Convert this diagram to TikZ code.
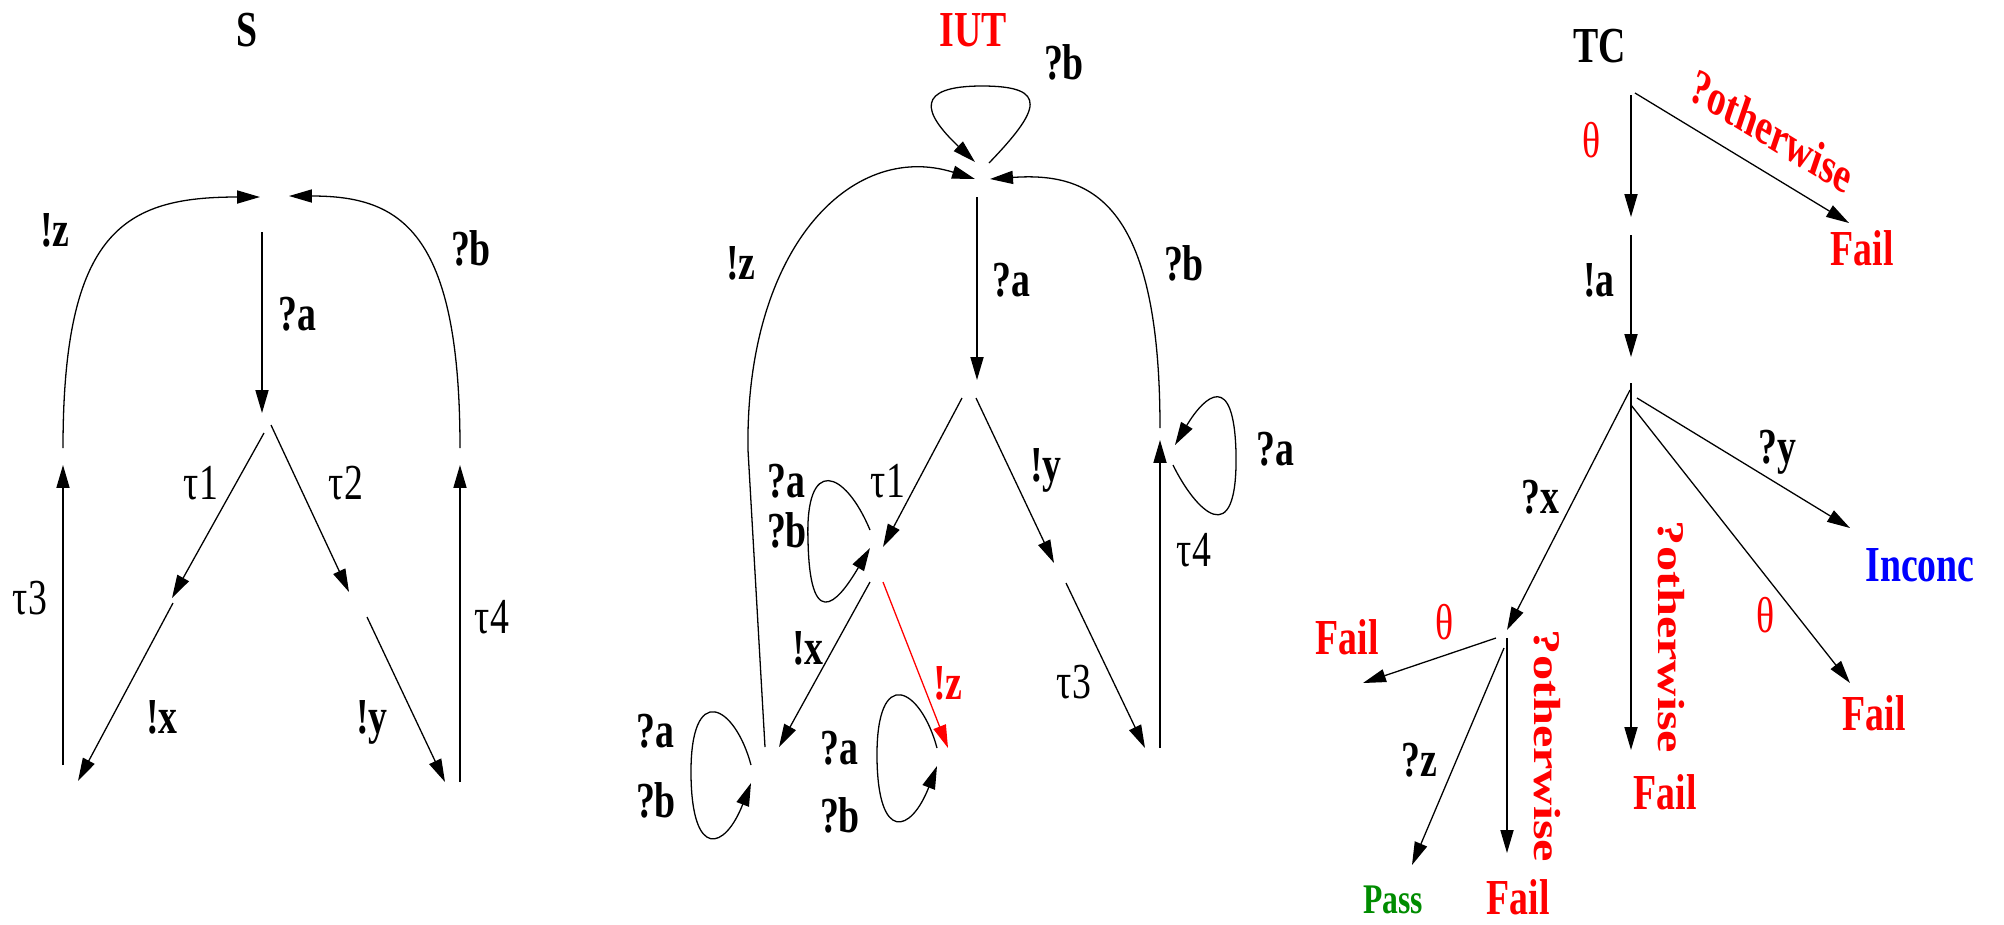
\documentclass[tikz,border=0pt]{standalone}
\usepackage{fontspec}
\setmainfont{Liberation Serif}
\usepackage{graphicx}
\usetikzlibrary{arrows.meta,calc}
\definecolor{pgreen}{RGB}{0,140,0}
\newcommand\lblb[1]{\scalebox{0.75}[1]{\bfseries #1}}
\newcommand\lblr[1]{\scalebox{0.75}[1]{#1}}
\newcommand\lblv[1]{\scalebox{0.75}[1]{\rotatebox{-90}{\bfseries #1}}}
\newcommand\lbld[1]{\scalebox{0.75}[1]{\rotatebox{-24.5}{\bfseries #1}}}
\begin{document}
\begin{tikzpicture}[x=0.015cm,y=-0.015cm,
  st/.style={inner sep=0pt,minimum size=0pt},
  lab/.style={inner sep=0pt,font=\fontsize{21.5}{24}\selectfont},
  small/.style={inner sep=0pt,font=\fontsize{18}{20}\selectfont},
  arr/.style={line width=0.55pt,-{Triangle[length=9.8pt,width=5.6pt]}}]
\useasboundingbox (0,0) rectangle (2004,924);

% ---------------- Panel S ----------------
\node[st] (s0) at (275,214) {};
\node[st] (s1) at (266,422) {};
\node[st] (s2) at (173,600) {};
\node[st] (s3) at (358,605) {};
\node[st] (s4) at (70,775) {};
\node[st] (s5) at (452,775) {};
\node[st] (s6) at (63,456) {};
\node[st] (s7) at (460,456) {};

\node[lab] (tS) at (247,30) {\lblb{S}};
\node[lab] (sz) at (55,230) {\lblb{!z}};
\node[lab] (sb) at (471,248) {\lblb{?b}};
\node[lab] (sa) at (297,314) {\lblb{?a}};
\node[lab] (st1) at (201,483) {\lblr{τ1}};
\node[lab] (st2) at (346,483) {\lblr{τ2}};
\node[lab] (st3) at (30,598) {\lblr{τ3}};
\node[lab] (st4) at (492,617) {\lblr{τ4}};
\node[lab] (sx) at (162,717) {\lblb{!x}};
\node[lab] (sy) at (372,722) {\lblb{!y}};

\draw[arr] ($(s6)+(0,-8)$) .. controls (63,230) and (125,197) .. ($(s0)+(-15,-17)$);
\draw[arr] ($(s7)+(0,-8)$) .. controls (460,230) and (400,196) .. ($(s0)+(14,-18)$);
\draw[arr] ($(s0)+(-13,18)$) -- ($(s1)+(-4,-9)$);
\draw[arr] ($(s1)+(-2,11)$) -- ($(s2)+(-1,-2)$);
\draw[arr] ($(s1)+(5,3)$) -- ($(s3)+(-9,-13)$);
\draw[arr] ($(s2)+(0,3)$) -- ($(s4)+(8,6)$);
\draw[arr] ($(s3)+(9,12)$) -- ($(s5)+(-7,7)$);
\draw[arr] ($(s4)+(-7,-10)$) -- ($(s6)+(0,9)$);
\draw[arr] ($(s5)+(8,7)$) -- ($(s7)+(0,9)$);

% ---------------- Panel IUT ----------------
\node[st] (i0) at (982,180) {};
\node[st] (i1) at (972,390) {};
\node[st] (i2) at (877,565) {};
\node[st] (i3) at (1060,573) {};
\node[st] (i4) at (770,765) {};
\node[st] (i5) at (948,765) {};
\node[st] (i6) at (1152,758) {};
\node[st] (i7) at (1165,445) {};

\node[lab,red] (tI) at (973,30) {\lblb{IUT}};
\node[lab] (ib0) at (1064,62) {\lblb{?b}};
\node[lab] (iz) at (741,263) {\lblb{!z}};
\node[lab] (ia) at (1011,280) {\lblb{?a}};
\node[lab] (ib) at (1184,263) {\lblb{?b}};
\node[lab] (ia7) at (1275,449) {\lblb{?a}};
\node[lab] (iy) at (1046,470) {\lblb{!y}};
\node[lab] (it1) at (888,481) {\lblr{τ1}};
\node[lab] (ia2) at (786,481) {\lblb{?a}};
\node[lab] (ib2) at (787,530) {\lblb{?b}};
\node[lab] (it4) at (1194,550) {\lblr{τ4}};
\node[lab] (ix) at (808,648) {\lblb{!x}};
\node[lab,red] (iz2) at (948,683) {\lblb{!z}};
\node[lab] (it3) at (1074,682) {\lblr{τ3}};
\node[lab] (ia4) at (655,731) {\lblb{?a}};
\node[lab] (ib4) at (656,800) {\lblb{?b}};
\node[lab] (ia5) at (839,748) {\lblb{?a}};
\node[lab] (ib5) at (840,815) {\lblb{?b}};

\draw[arr] ($(i0)+(7,-17)$) .. controls (1040,110) and (1050,86) .. (982,86)
  .. controls (915,86) and (922,112) .. ($(i0)+(-7,-18)$);
\draw[arr] ($(i4)+(-5,-18)$) -- (748,450) .. controls (745,250) and (850,140) .. ($(i0)+(-7,-1)$);
\draw[arr] ($(i7)+(-5,-17)$) .. controls (1160,200) and (1090,172) .. ($(i0)+(8,-1)$);
\draw[arr] ($(i0)+(-5,17)$) -- ($(i1)+(5,-10)$);
\draw[arr] ($(i1)+(-10,8)$) -- ($(i2)+(6,-18)$);
\draw[arr] ($(i1)+(4,8)$) -- ($(i3)+(-6,-10)$);
\draw[arr] ($(i2)+(-7,-35)$) .. controls (845,470) and (805,455) .. (808,540)
  .. controls (810,645) and (845,590) .. ($(i2)+(-7,-17)$);
\draw[arr] ($(i2)+(-7,17)$) -- ($(i4)+(9,-18)$);
\draw[arr,red] ($(i2)+(6,17)$) -- ($(i5)+(0,-17)$);
\draw[arr] ($(i3)+(6,10)$) -- ($(i6)+(-7,-10)$);
\draw[arr] ($(i6)+(8,-10)$) -- ($(i7)+(-5,-5)$);
\draw[arr] ($(i7)+(8,20)$) .. controls (1195,510) and (1238,555) .. (1236,453)
  .. controls (1234,370) and (1205,395) .. ($(i7)+(10,0)$);
\draw[arr] ($(i4)+(-19,0)$) .. controls (735,705) and (690,680) .. (691,775)
  .. controls (692,860) and (725,850) .. ($(i4)+(-19,18)$);
\draw[arr] ($(i5)+(-11,-17)$) .. controls (921,688) and (876,663) .. (877,758)
  .. controls (878,843) and (911,833) .. ($(i5)+(-11,1)$);

% ---------------- Panel TC ----------------
\node[st] (t0) at (1631,82) {};
\node[st] (t1) at (1631,226) {};
\node[st] (t2) at (1631,372) {};
\node[st] (t3) at (1507,640) {};

\node[lab] (tT) at (1600,46) {\lblb{TC}};
\node[lab,red] (th0) at (1592,140) {\lblr{θ}};
\node[lab,red] (ow0) at (1772,131) {\lbld{?otherwise}};
\node[lab,red] (fa) at (1862,248) {\lblb{Fail}};
\node[lab] (ta) at (1599,280) {\lblb{!a}};
\node[lab] (ty) at (1777,452) {\lblb{?y}};
\node[lab] (tx) at (1540,497) {\lblb{?x}};
\node[lab,blue] (inc) at (1920,565) {\lblb{Inconc}};
\node[lab,red] (th1) at (1766,615) {\lblr{θ}};
\node[lab,red] (fc) at (1874,713) {\lblb{Fail}};
\node[lab,red] (ow1) at (1671,637) {\lblv{?otherwise}};
\node[lab,red] (fb) at (1665,792) {\lblb{Fail}};
\node[lab,red] (th2) at (1445,622) {\lblr{θ}};
\node[lab,red] (fd) at (1347,637) {\lblb{Fail}};
\node[lab] (tz) at (1419,760) {\lblb{?z}};
\node[lab,red] (ow2) at (1547,746) {\lblv{?otherwise}};
\node[small,pgreen] (pass) at (1393,900) {\lblb{Pass}};
\node[lab,red] (fe) at (1518,897) {\lblb{Fail}};

\draw[arr] ($(t0)+(0,13)$) -- ($(t1)+(0,-9)$);
\draw[arr] ($(t0)+(4,11)$) -- ($(fa)+(-13,-25)$);
\draw[arr] ($(t1)+(0,9)$) -- ($(t2)+(0,-15)$);
\draw[arr] ($(t2)+(0,11)$) -- ($(fb)+(-34,-42)$);
\draw[arr] ($(t2)+(-1,18)$) -- ($(t3)+(0,-10)$);
\draw[arr] ($(t2)+(0,33)$) -- ($(fc)+(-24,-30)$);
\draw[arr] ($(t2)+(6,26)$) -- ($(inc)+(-70,-37)$);
\draw[arr] ($(t3)+(-11,-2)$) -- ($(fd)+(16,46)$);
\draw[arr] ($(t3)+(-3,8)$) -- ($(pass)+(19,-35)$);
\draw[arr] ($(t3)+(0,-2)$) -- ($(fe)+(-11,-44)$);
\end{tikzpicture}
\end{document}
